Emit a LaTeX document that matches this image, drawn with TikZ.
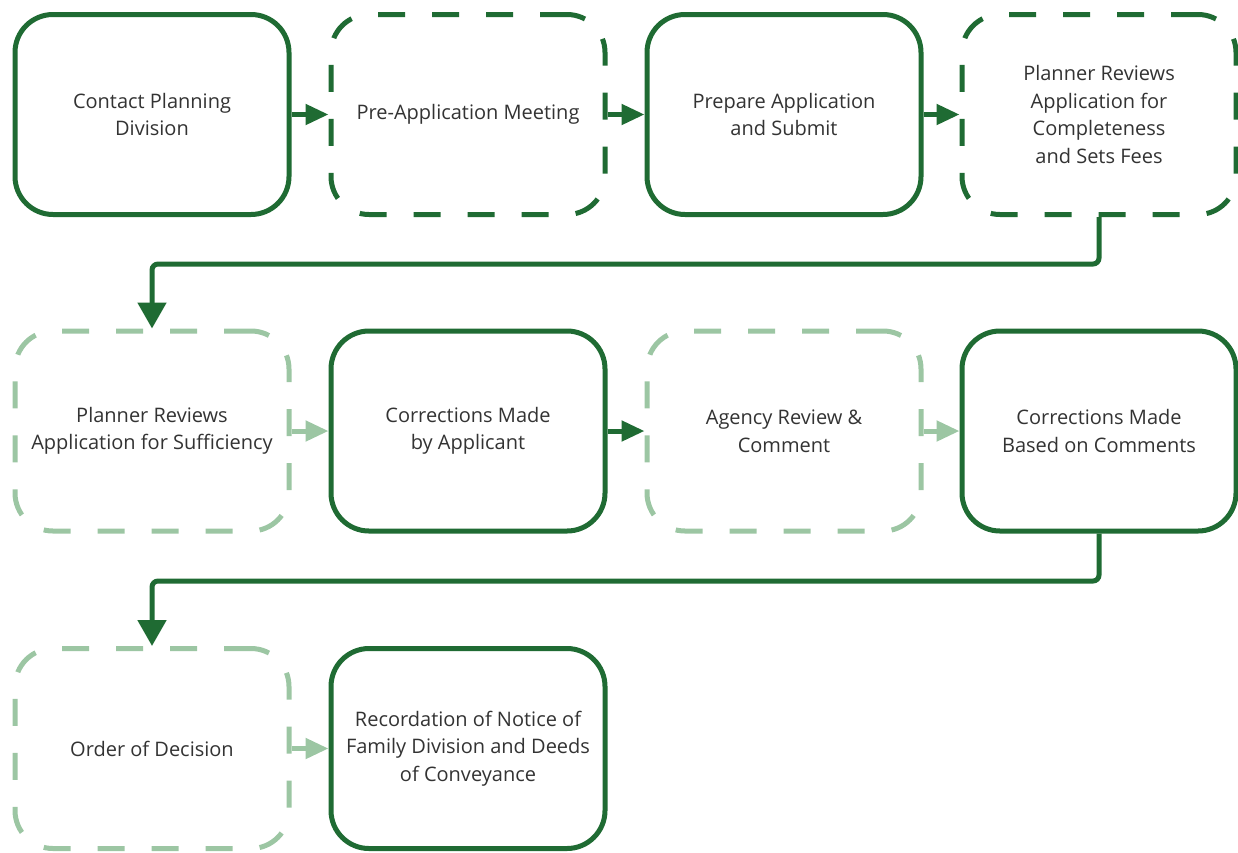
\documentclass[tikz,border=0pt]{standalone}
\usepackage{fontspec}
\setmainfont{Open Sans}
\usetikzlibrary{arrows.meta}
\definecolor{dkgreen}{HTML}{1F6B33}
\definecolor{ltgreen}{HTML}{9CC6A3}
\definecolor{txtgray}{HTML}{333333}
\tikzset{
  box/.style={draw, line width=5pt, rounded corners=38pt, minimum width=274pt, minimum height=200pt,
    inner sep=0pt, align=center, text=txtgray, font=\fontsize{20pt}{27.5pt}\selectfont, fill=white},
  solidbox/.style={box, draw=dkgreen},
  darkdash/.style={box, draw=dkgreen, dash pattern=on 27pt off 27pt},
  lightdash/.style={box, draw=ltgreen, dash pattern=on 27pt off 27pt},
  conn/.style={line width=5pt, -{Triangle[length=23pt,width=20pt]}},
  darkconn/.style={conn, draw=dkgreen, fill=dkgreen},
  lightconn/.style={conn, draw=ltgreen, fill=ltgreen},
  bendconn/.style={line width=5pt, draw=dkgreen, rounded corners=6pt, -{Triangle[length=26pt,width=28pt,fill=dkgreen]}},
}
\begin{document}
\begin{tikzpicture}[x=1pt,y=-1pt]
\useasboundingbox (0,0) rectangle (1238,852);
\node[solidbox] (b1) at (152,114.5) {Contact Planning\\Division};
\node[darkdash] (b2) at (468,114.5) {Pre-Application Meeting};
\node[solidbox] (b3) at (784,114.5) {Prepare Application\\and Submit};
\node[darkdash] (b4) at (1099,114.5) {Planner Reviews\\Application for\\Completeness\\and Sets Fees};
\node[lightdash] (b5) at (152,431) {Planner Reviews\\Application for Sufficiency};
\node[solidbox] (b6) at (468,431) {Corrections Made\\by Applicant};
\node[lightdash] (b7) at (784,431) {Agency Review \&\\Comment};
\node[solidbox] (b8) at (1099,431) {Corrections Made\\Based on Comments};
\node[lightdash] (b9) at (152,748.5) {Order of Decision};
\node[solidbox] (b10) at (468,748.5) {Recordation of Notice of\\Family Division and Deeds\\of Conveyance};
\coordinate (m1) at (0,264);
\coordinate (m2) at (0,581);
\draw[darkconn] (b1.east) -- (b2.west);
\draw[darkconn] (b2.east) -- (b3.west);
\draw[darkconn] (b3.east) -- (b4.west);
\draw[bendconn] (b4.south) -- (b4.south |- m1) -| (b5.north);
\draw[lightconn] (b5.east) -- (b6.west);
\draw[darkconn] (b6.east) -- (b7.west);
\draw[lightconn] (b7.east) -- (b8.west);
\draw[bendconn] (b8.south) -- (b8.south |- m2) -| (b9.north);
\draw[lightconn] (b9.east) -- (b10.west);
\end{tikzpicture}
\end{document}
